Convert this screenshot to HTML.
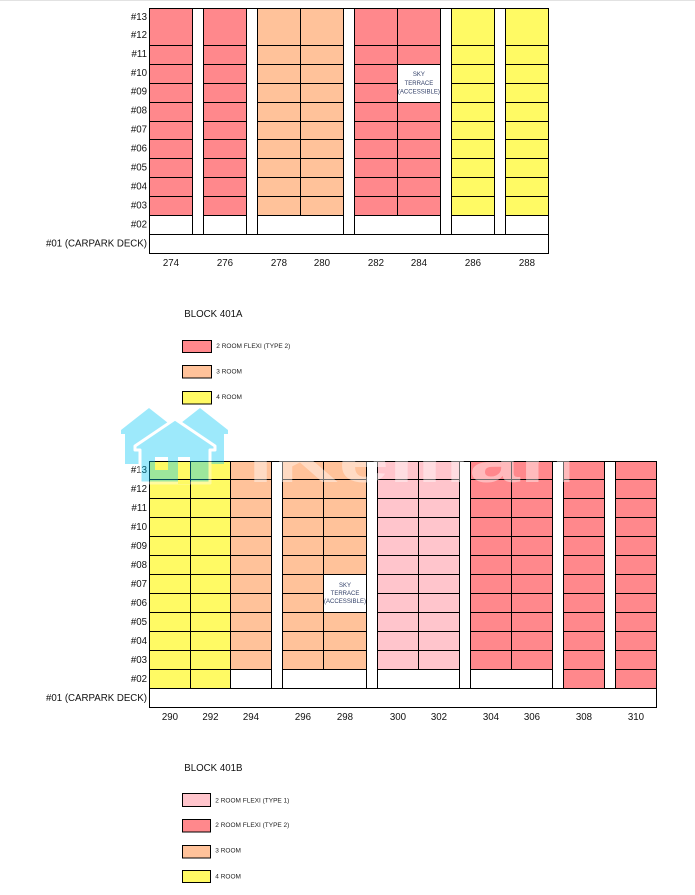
<!DOCTYPE html>
<html><head><meta charset="utf-8"><style>
html,body{margin:0;padding:0;background:#fff;}
svg{display:block;}
text{font-family:"Liberation Sans",Arial,sans-serif;}
</style></head><body>
<svg width="695" height="895" viewBox="0 0 695 895" xmlns="http://www.w3.org/2000/svg">
<rect x="0" y="0" width="695" height="895" fill="#fff"/>
<rect x="0" y="0" width="695" height="1" fill="#e2e2e2"/>

<!-- ===== CHART 1 ===== -->
<g>
<rect x="149.5" y="8.5" width="43" height="207" fill="#FF888C"/>
<rect x="203.5" y="8.5" width="43" height="207" fill="#FF888C"/>
<rect x="257.5" y="8.5" width="86" height="207" fill="#FFC29A"/>
<rect x="354.5" y="8.5" width="86" height="207" fill="#FF888C"/>
<rect x="451.5" y="8.5" width="43" height="207" fill="#FFFA64"/>
<rect x="505.5" y="8.5" width="43" height="207" fill="#FFFA64"/>
<path d="M149.5 45.5H548.5M149.5 64.5H548.5M149.5 83.5H548.5M149.5 102.5H548.5M149.5 121.5H548.5M149.5 139.5H548.5M149.5 158.5H548.5M149.5 177.5H548.5M149.5 196.5H548.5M149.5 215.5H548.5M149.5 234.5H548.5" stroke="#000" stroke-width="1" fill="none"/>
<g fill="#fff">
<rect x="193" y="9" width="10" height="225"/>
<rect x="247" y="9" width="10" height="225"/>
<rect x="344" y="9" width="10" height="225"/>
<rect x="441" y="9" width="10" height="225"/>
<rect x="495" y="9" width="10" height="225"/>
<rect x="398" y="65" width="42" height="37"/>
</g>
<path d="M192.5 8.5V234.5M203.5 8.5V234.5M246.5 8.5V234.5M257.5 8.5V234.5M343.5 8.5V234.5M354.5 8.5V234.5M440.5 8.5V234.5M451.5 8.5V234.5M494.5 8.5V234.5M505.5 8.5V234.5M300.5 8.5V215.5M397.5 8.5V215.5" stroke="#000" stroke-width="1" fill="none"/>
<rect x="149.5" y="8.5" width="399" height="245" fill="none" stroke="#000" stroke-width="1"/>
<g font-size="6" fill="#34426a" text-anchor="middle">
<text x="418.9" y="76.1">SKY</text>
<text x="418.9" y="84.8">TERRACE</text>
<text x="418.9" y="93.4" textLength="42" lengthAdjust="spacingAndGlyphs">(ACCESSIBLE)</text>
</g>
<g font-size="9.7" fill="#111" text-anchor="end">
<text x="147" y="20.2">#13</text>
<text x="147" y="38.2">#12</text>
<text x="147" y="56.8">#11</text>
<text x="147" y="75.75">#10</text>
<text x="147" y="94.7">#09</text>
<text x="147" y="113.65">#08</text>
<text x="147" y="132.6">#07</text>
<text x="147" y="151.55">#06</text>
<text x="147" y="170.5">#05</text>
<text x="147" y="189.45">#04</text>
<text x="147" y="208.4">#03</text>
<text x="147" y="227.35">#02</text>
<text x="147" y="246.6">#01 (CARPARK DECK)</text>
</g>
<g font-size="9.7" fill="#111" text-anchor="middle">
<text x="170.9" y="266.2">274</text>
<text x="224.9" y="266.2">276</text>
<text x="278.9" y="266.2">278</text>
<text x="321.9" y="266.2">280</text>
<text x="375.9" y="266.2">282</text>
<text x="418.9" y="266.2">284</text>
<text x="472.9" y="266.2">286</text>
<text x="527" y="266.2">288</text>
</g>
</g>

<!-- ===== LEGEND A ===== -->
<text x="184.3" y="317.2" font-size="9.7" fill="#111">BLOCK 401A</text>
<rect x="182.5" y="340.5" width="29" height="12" fill="#FF888C" stroke="#000" stroke-width="1"/>
<rect x="182.5" y="365.5" width="29" height="12.5" fill="#FFC29A" stroke="#000" stroke-width="1"/>
<rect x="182.5" y="391.5" width="29" height="12.5" fill="#FFFA64" stroke="#000" stroke-width="1"/>
<g font-size="6.5" fill="#222">
<text x="216.3" y="348">2 ROOM FLEXI (TYPE 2)</text>
<text x="216.3" y="373.6">3 ROOM</text>
<text x="216.3" y="399">4 ROOM</text>
</g>

<!-- ===== CHART 2 ===== -->
<g>
<rect x="149.5" y="461.5" width="81" height="227" fill="#FFFA64"/>
<rect x="230.5" y="461.5" width="41" height="208" fill="#FFC29A"/>
<rect x="282.5" y="461.5" width="84" height="208" fill="#FFC29A"/>
<rect x="377.5" y="461.5" width="82" height="208" fill="#FFC5CC"/>
<rect x="470.5" y="461.5" width="82" height="208" fill="#FF888C"/>
<rect x="563.5" y="461.5" width="41" height="227" fill="#FF888C"/>
<rect x="615.5" y="461.5" width="41" height="227" fill="#FF888C"/>
<path d="M149.5 479.5H656.5M149.5 498.5H656.5M149.5 517.5H656.5M149.5 536.5H656.5M149.5 555.5H656.5M149.5 574.5H656.5M149.5 593.5H656.5M149.5 612.5H656.5M149.5 631.5H656.5M149.5 650.5H656.5M149.5 669.5H656.5M149.5 688.5H656.5" stroke="#000" stroke-width="1" fill="none"/>
<g fill="#fff">
<rect x="272" y="462" width="10" height="226"/>
<rect x="367" y="462" width="10" height="226"/>
<rect x="460" y="462" width="10" height="226"/>
<rect x="553" y="462" width="10" height="226"/>
<rect x="605" y="462" width="10" height="226"/>
<rect x="324" y="575" width="42" height="37"/>
</g>
<path d="M190.5 461.5V688.5M230.5 461.5V688.5M271.5 461.5V688.5M282.5 461.5V688.5M366.5 461.5V688.5M377.5 461.5V688.5M459.5 461.5V688.5M470.5 461.5V688.5M552.5 461.5V688.5M563.5 461.5V688.5M604.5 461.5V688.5M615.5 461.5V688.5M323.5 461.5V669.5M418.5 461.5V669.5M511.5 461.5V669.5" stroke="#000" stroke-width="1" fill="none"/>
<rect x="149.5" y="461.5" width="507" height="246" fill="none" stroke="#000" stroke-width="1"/>
<g font-size="6" fill="#34426a" text-anchor="middle">
<text x="345" y="587.1">SKY</text>
<text x="345" y="594.8">TERRACE</text>
<text x="345" y="602.8" textLength="42" lengthAdjust="spacingAndGlyphs">(ACCESSIBLE)</text>
</g>
<g font-size="9.7" fill="#111" text-anchor="end">
<text x="147" y="472.75">#13</text>
<text x="147" y="492.15">#12</text>
<text x="147" y="511.15">#11</text>
<text x="147" y="530.15">#10</text>
<text x="147" y="549.15">#09</text>
<text x="147" y="568.15">#08</text>
<text x="147" y="587.15">#07</text>
<text x="147" y="606.15">#06</text>
<text x="147" y="625.15">#05</text>
<text x="147" y="644.15">#04</text>
<text x="147" y="663.15">#03</text>
<text x="147" y="682.15">#02</text>
<text x="147" y="701.15">#01 (CARPARK DECK)</text>
</g>
<g font-size="9.7" fill="#111" text-anchor="middle">
<text x="170" y="720.2">290</text>
<text x="210.5" y="720.2">292</text>
<text x="251" y="720.2">294</text>
<text x="303" y="720.2">296</text>
<text x="345" y="720.2">298</text>
<text x="398" y="720.2">300</text>
<text x="439" y="720.2">302</text>
<text x="491" y="720.2">304</text>
<text x="532" y="720.2">306</text>
<text x="584" y="720.2">308</text>
<text x="636" y="720.2">310</text>
</g>
</g>

<!-- ===== LEGEND B ===== -->
<text x="184.3" y="770.8" font-size="9.7" fill="#111">BLOCK 401B</text>
<rect x="182.5" y="793.5" width="28" height="13" fill="#FFC5CC" stroke="#000" stroke-width="1"/>
<rect x="182.5" y="819.5" width="28" height="12.5" fill="#FF888C" stroke="#000" stroke-width="1"/>
<rect x="182.5" y="845.5" width="28" height="12.5" fill="#FFC29A" stroke="#000" stroke-width="1"/>
<rect x="182.5" y="870.5" width="28" height="12" fill="#FFFA64" stroke="#000" stroke-width="1"/>
<g font-size="6.5" fill="#222">
<text x="215.3" y="802.3">2 ROOM FLEXI (TYPE 1)</text>
<text x="215.3" y="827">2 ROOM FLEXI (TYPE 2)</text>
<text x="215.3" y="852.3">3 ROOM</text>
<text x="215.3" y="878.6">4 ROOM</text>
</g>

<!-- ===== WATERMARK ===== -->
<defs>
<mask id="cut">
<rect x="0" y="0" width="695" height="895" fill="#fff"/>
<rect x="155" y="457" width="13" height="13" fill="#000"/>
<rect x="178" y="457" width="12" height="27" fill="#000"/>
</mask>
</defs>
<g opacity="0.38" mask="url(#cut)">
<polygon points="149,408 177,430 177,434 173,434 173,464 125,464 125,434 121,434 121,430" fill="rgb(0,200,247)"/>
<polygon points="200,408 228,430 228,434 224,434 224,464 176,464 176,434 172,434 172,430" fill="rgb(0,200,247)"/>
<polygon points="175,419 215,446 215,450 210,450 210,483 140,483 140,450 135,450 135,446" fill="rgb(0,200,247)" stroke="#fff" stroke-width="3" stroke-linejoin="round"/>
</g>
<text x="248" y="482" font-size="62" font-weight="bold" fill="#fff" fill-opacity="0.42" textLength="327" lengthAdjust="spacingAndGlyphs">iKeman</text>
</svg>
</body></html>
